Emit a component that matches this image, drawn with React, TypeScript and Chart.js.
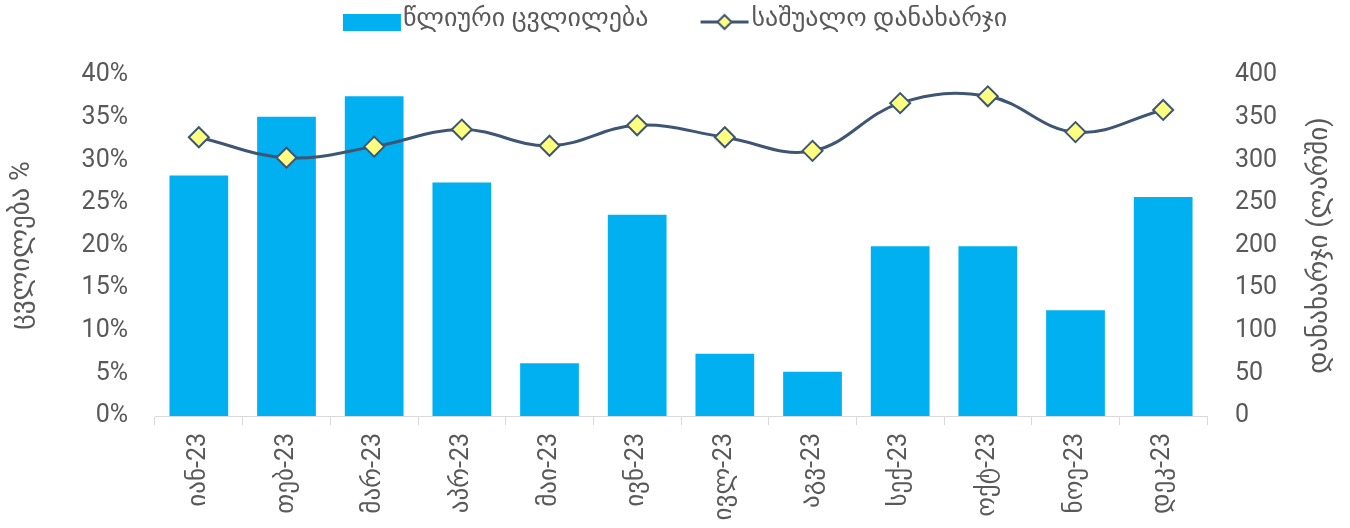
import React, { useEffect, useRef } from 'react';
import { Chart, registerables } from 'chart.js';

Chart.register(...registerables);

const categories = ['იან-23', 'თებ-23', 'მარ-23', 'აპრ-23', 'მაი-23', 'ივნ-23', 'ივლ-23', 'აგვ-23', 'სექ-23', 'ოქტ-23', 'ნოე-23', 'დეკ-23'];
const annualChange = [28.2, 35.1, 37.5, 27.4, 6.2, 23.6, 7.3, 5.2, 19.9, 19.9, 12.4, 25.7];
const avgSpending = [327, 303, 316, 336, 317, 341, 327, 311, 367, 375, 333, 359];
const seriesNames = ['წლიური ცვლილება', 'საშუალო დანახარჯი'];
const leftTitle = 'ცვლილება %';
const rightTitle = 'დანახარჯი (ლარში)';
const leftTicks = { min: 0, max: 40, step: 5 };
const rightTicks = { min: 0, max: 400, step: 50 };

const BAR = '#00B0F0';
const LINE = '#3E5574';
const MARK = '#FFFF80';
const TEXT = '#595959';
const AXIS = '#D9D9D9';
const FONT = "Roboto, 'DejaVu Sans', sans-serif";
const TICK_FS = 25;
const LEGEND_FS = 26;
const TITLE_FS = 27;

function barIcon() {
  const c = document.createElement('canvas');
  c.width = 108; c.height = 30;
  const x = c.getContext('2d')!;
  x.fillStyle = BAR;
  x.fillRect(49, 10, 58, 17);
  return c;
}
function lineIcon() {
  const c = document.createElement('canvas');
  c.width = 108; c.height = 30;
  const x = c.getContext('2d')!;
  x.strokeStyle = LINE; x.lineWidth = 3;
  x.beginPath(); x.moveTo(58, 18); x.lineTo(106, 18); x.stroke();
  x.beginPath();
  x.moveTo(82, 11); x.lineTo(89, 18); x.lineTo(82, 25); x.lineTo(75, 18); x.closePath();
  x.fillStyle = MARK; x.fill(); x.lineWidth = 2; x.stroke();
  return c;
}

const titlesPlugin = {
  id: 'sideTitles',
  afterDraw(chart: any) {
    const { ctx, chartArea } = chart;
    const cy = (chartArea.top + chartArea.bottom) / 2;
    ctx.save();
    ctx.fillStyle = TEXT;
    ctx.font = `${TITLE_FS}px ${FONT}`;
    ctx.textAlign = 'center';
    ctx.textBaseline = 'middle';
    const items: [string, number][] = [
      [chart.options.scales.y.title.text, 22],
      [chart.options.scales.y1.title.text, 1320],
    ];
    for (const [t, x] of items) {
      ctx.save();
      ctx.translate(x, cy);
      ctx.rotate(-Math.PI / 2);
      ctx.fillText(t, 0, 0);
      ctx.restore();
    }
    ctx.restore();
  },
};

const legendHeightPlugin = {
  id: 'legendHeight',
  beforeInit(chart: any) {
    const lg = chart.legend;
    const orig = lg.fit;
    lg.fit = function () {
      orig.call(this);
      this.height = 75;
    };
  },
};

export default function App() {
  const ref = useRef<HTMLCanvasElement>(null);
  useEffect(() => {
    document.body.style.margin = '0';
    const icons = [barIcon(), lineIcon()];
    const chart = new Chart(ref.current!, {
      type: 'bar',
      data: {
        labels: categories,
        datasets: [
          {
            type: 'bar',
            label: seriesNames[0],
            data: annualChange,
            backgroundColor: BAR,
            yAxisID: 'y',
            categoryPercentage: 1,
            barPercentage: 0.67,
            order: 1,
          } as any,
          {
            type: 'line',
            label: seriesNames[1],
            data: avgSpending,
            yAxisID: 'y1',
            borderColor: LINE,
            borderWidth: 3,
            tension: 0.4,
            pointStyle: 'rectRot',
            pointRadius: 10,
            pointBackgroundColor: MARK,
            pointBorderColor: LINE,
            pointBorderWidth: 2,
            order: 0,
          } as any,
        ],
      },
      options: {
        responsive: false,
        animation: false,
        devicePixelRatio: 1,
        layout: { padding: { left: 0, right: 37, top: 0, bottom: 0 } },
        plugins: {
          tooltip: { enabled: false },
          legend: {
            position: 'top',
            labels: {
              usePointStyle: true,
              pointStyleWidth: 84,
              padding: 6,
              color: TEXT,
              font: { family: FONT, size: LEGEND_FS },
              generateLabels(ch: any) {
                const items = Chart.defaults.plugins.legend.labels.generateLabels(ch);
                items.sort((a: any, b: any) => a.datasetIndex - b.datasetIndex);
                items.forEach((it: any) => { it.pointStyle = icons[it.datasetIndex]; });
                return items;
              },
            },
          },
        },
        scales: {
          x: {
            grid: { display: true, drawOnChartArea: false, drawTicks: true, tickLength: 9, color: AXIS, offset: true },
            border: { display: true, color: AXIS },
            ticks: { minRotation: 90, maxRotation: 90, padding: 8, color: TEXT, font: { family: FONT, size: TICK_FS } },
            afterFit(s: any) { s.height = 112; },
          },
          y: {
            position: 'left',
            min: leftTicks.min,
            max: leftTicks.max,
            grid: { display: false, drawTicks: false },
            border: { display: false },
            title: { display: false, text: leftTitle },
            ticks: {
              stepSize: leftTicks.step,
              padding: 27,
              color: TEXT,
              font: { family: FONT, size: TICK_FS },
              callback: (v: any) => `${v}%`,
            },
            afterFit(s: any) { s.width = 155; },
          },
          y1: {
            position: 'right',
            min: rightTicks.min,
            max: rightTicks.max,
            grid: { display: false, drawTicks: false },
            border: { display: false },
            title: { display: false, text: rightTitle },
            ticks: {
              stepSize: rightTicks.step,
              padding: 28,
              color: TEXT,
              font: { family: FONT, size: TICK_FS },
            },
            afterFit(s: any) { s.width = 106; },
          },
        },
      },
      plugins: [titlesPlugin, legendHeightPlugin],
    });
    return () => chart.destroy();
  }, []);
  return (
    <div style={{ width: 1350, height: 528 }}>
      <canvas ref={ref} width={1350} height={528} />
    </div>
  );
}
